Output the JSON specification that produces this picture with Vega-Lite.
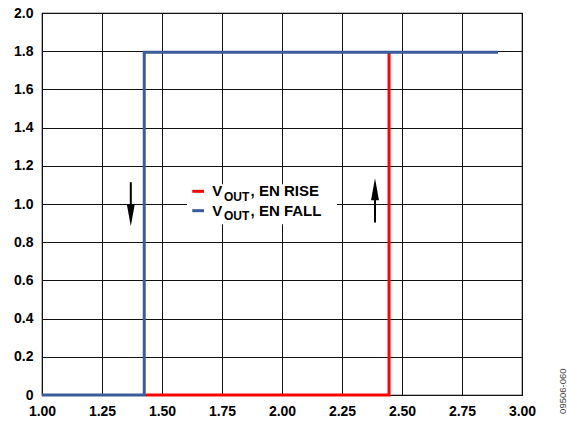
{
  "$schema": "https://vega.github.io/schema/vega-lite/v6.json",
  "width": 480,
  "height": 382,
  "autosize": "none",
  "padding": {"left": 42, "top": 13, "right": 45, "bottom": 27},
  "background": "white",
  "config": {
    "view": {"stroke": "#000000", "strokeWidth": 1.2},
    "axis": {
      "grid": true, "gridColor": "#111111", "gridOpacity": 1, "gridWidth": 1,
      "ticks": false, "domain": false, "title": null,
      "labelFont": "Liberation Sans", "labelFontSize": 14, "labelFontWeight": "bold",
      "labelColor": "#000000", "labelPadding": 9, "labelFlush": false, "labelOverlap": false
    },
    "text": {"font": "Liberation Sans"}
  },
  "datasets": {
    "curves": [
      {"series": "rise", "i": 0, "x": 1.432, "y": 0},
      {"series": "rise", "i": 1, "x": 2.446, "y": 0},
      {"series": "rise", "i": 2, "x": 2.446, "y": 1.795},
      {"series": "fall", "i": 0, "x": 1.0, "y": 0},
      {"series": "fall", "i": 1, "x": 1.426, "y": 0},
      {"series": "fall", "i": 2, "x": 1.426, "y": 1.795},
      {"series": "fall", "i": 3, "x": 2.9, "y": 1.795}
    ],
    "legendbox": [{"x": 1.604, "x2": 2.229, "y": 0.894, "y2": 1.103}],
    "swatches": [
      {"series": "rise", "x": 1.626, "x2": 1.675, "y": 1.0665},
      {"series": "fall", "x": 1.626, "x2": 1.675, "y": 0.965}
    ],
    "labels": [
      {"t": "V", "role": "main", "x": 1.7096, "y": 1.04},
      {"t": "OUT", "role": "sub", "x": 1.758, "y": 1.018},
      {"t": ", EN RISE", "role": "main", "x": 1.869, "y": 1.04},
      {"t": "V", "role": "main", "x": 1.7096, "y": 0.939},
      {"t": "OUT", "role": "sub", "x": 1.758, "y": 0.917},
      {"t": ", EN FALL", "role": "main", "x": 1.869, "y": 0.939}
    ],
    "shafts": [
      {"x": 1.37, "y": 1.114, "y2": 0.95},
      {"x": 2.3875, "y": 0.903, "y2": 1.06}
    ],
    "heads": [
      {"dir": "down", "x": 1.37, "y": 0.941},
      {"dir": "up", "x": 2.3875, "y": 1.077}
    ],
    "note": [{"t": "09506-060", "x": 3.17, "y": 0.02}]
  },
  "encoding": {
    "x": {"field": "x", "type": "quantitative",
      "scale": {"domain": [1, 3], "nice": false, "zero": false},
      "axis": {"values": [1, 1.25, 1.5, 1.75, 2, 2.25, 2.5, 2.75, 3], "format": ".2f"}},
    "y": {"field": "y", "type": "quantitative",
      "scale": {"domain": [0, 2], "nice": false},
      "axis": {"values": [0, 0.2, 0.4, 0.6, 0.8, 1.0, 1.2, 1.4, 1.6, 1.8, 2.0],
        "labelExpr": "datum.value == 0 ? '0' : format(datum.value, '.1f')"}}
  },
  "layer": [
    {
      "data": {"name": "curves"},
      "transform": [{"filter": "datum.series == 'rise'"}],
      "mark": {"type": "line", "color": "#FF0000", "strokeWidth": 3, "clip": false},
      "encoding": {"order": {"field": "i", "type": "quantitative"}}
    },
    {
      "data": {"name": "curves"},
      "transform": [{"filter": "datum.series == 'fall'"}],
      "mark": {"type": "line", "color": "#3B5B9A", "strokeWidth": 3, "clip": false},
      "encoding": {"order": {"field": "i", "type": "quantitative"}}
    },
    {
      "data": {"name": "legendbox"},
      "mark": {"type": "rect", "fill": "white", "stroke": null},
      "encoding": {"x2": {"field": "x2"}, "y2": {"field": "y2"}}
    },
    {
      "data": {"name": "swatches"},
      "mark": {"type": "rule", "strokeWidth": 3},
      "encoding": {
        "x2": {"field": "x2"},
        "color": {"field": "series", "type": "nominal",
          "scale": {"domain": ["rise", "fall"], "range": ["#FF0000", "#3B5B9A"]}, "legend": null}
      }
    },
    {
      "data": {"name": "labels"},
      "transform": [{"filter": "datum.role == 'main'"}],
      "mark": {"type": "text", "align": "left", "baseline": "alphabetic", "fontSize": 15, "fontWeight": "bold", "color": "#000000"},
      "encoding": {"text": {"field": "t"}}
    },
    {
      "data": {"name": "labels"},
      "transform": [{"filter": "datum.role == 'sub'"}],
      "mark": {"type": "text", "align": "left", "baseline": "alphabetic", "fontSize": 12, "fontWeight": "bold", "color": "#000000"},
      "encoding": {"text": {"field": "t"}}
    },
    {
      "data": {"name": "shafts"},
      "mark": {"type": "rule", "color": "#000000", "strokeWidth": 2},
      "encoding": {"y2": {"field": "y2"}}
    },
    {
      "data": {"name": "heads"},
      "mark": {"type": "point", "filled": true, "color": "#000000", "opacity": 1, "size": 484},
      "encoding": {
        "shape": {"field": "dir", "type": "nominal",
          "scale": {"domain": ["down", "up"], "range": ["M-0.36,-1L0.36,-1L0,1Z", "M-0.36,1L0.36,1L0,-1Z"]}, "legend": null}
      }
    },
    {
      "data": {"name": "note"},
      "mark": {"type": "text", "angle": 270, "align": "center", "baseline": "middle", "fontSize": 9.5, "color": "#444444", "font": "Liberation Sans", "clip": false},
      "encoding": {"text": {"field": "t"}}
    }
  ]
}
